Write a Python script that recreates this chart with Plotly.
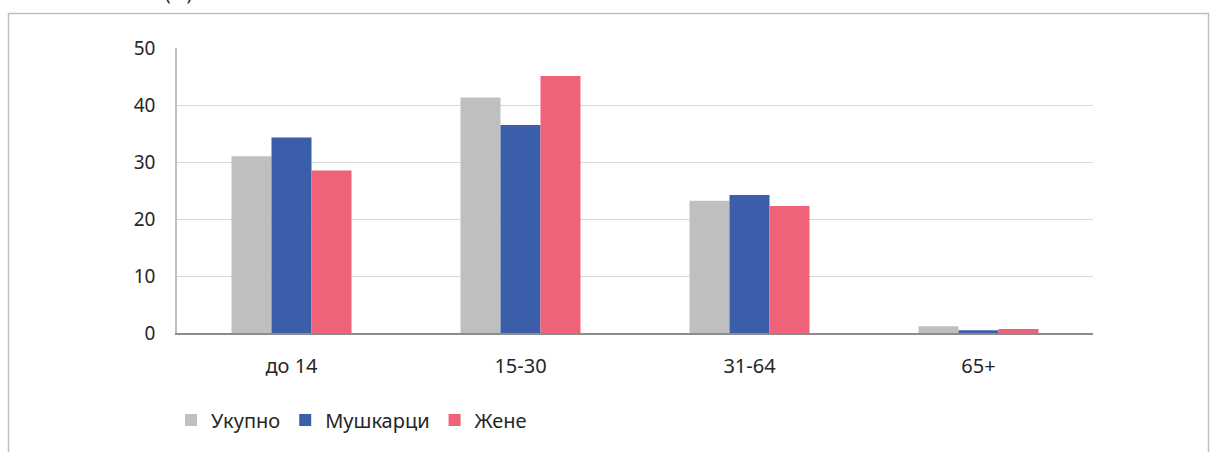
import plotly.graph_objects as go

categories = ["до 14", "15-30", "31-64", "65+"]
series_names = ["Укупно", "Мушкарци", "Жене"]
ukupno = [31.0, 41.3, 23.2, 1.2]
muskarci = [34.3, 36.5, 24.2, 0.5]
zene = [28.5, 45.1, 22.3, 0.7]
colors = ["#bfbfbf", "#3a5eaa", "#f06277"]
y_ticks = [0, 10, 20, 30, 40, 50]

fig = go.Figure()
for name, vals, c in zip(series_names, [ukupno, muskarci, zene], colors):
    fig.add_trace(go.Bar(x=categories, y=vals, name=name, marker_color=c,
                         marker_line_width=0))

W, H = 1217, 452
L, R, T, B = 177, 124, 48, 119
pw, ph = W - L - R, H - T - B

def px2paper_x(px):
    return (px - L) / pw

def px2paper_y(py):
    return (H - B - py) / ph

FONT = "Noto Sans, Open Sans, sans-serif"

fig.update_layout(
    width=W, height=H,
    margin=dict(l=L, r=R, t=T, b=B),
    paper_bgcolor="white", plot_bgcolor="white",
    barmode="group", bargap=0.476, bargroupgap=0,
    font=dict(family=FONT, size=19, color="#262626"),
    legend=dict(orientation="h", x=px2paper_x(171), y=px2paper_y(420),
                xanchor="left", yanchor="middle",
                font=dict(size=20, color="#262626"), itemwidth=30,
                traceorder="normal"),
    xaxis=dict(showgrid=False, showline=True, linecolor="#8c8c8c", linewidth=1.5,
               ticks="", tickfont=dict(size=20, color="#262626"),
               ticklabelstandoff=14),
    yaxis=dict(range=[0, 50], tickvals=y_ticks, showgrid=True, gridcolor="#d9d9d9",
               gridwidth=1, showline=True, linecolor="#bfbfbf", linewidth=1.5,
               zeroline=False, ticks="", tickfont=dict(size=19, color="#262626"),
               ticklabelstandoff=16),
    shapes=[dict(type="rect", xref="paper", yref="paper",
                 x0=px2paper_x(8.5), x1=px2paper_x(1208.5),
                 y0=px2paper_y(470), y1=px2paper_y(13.5),
                 line=dict(color="#bfbfbf", width=1.5), fillcolor="rgba(0,0,0,0)",
                 layer="below")],
    annotations=[dict(text="(%)", xref="paper", yref="paper",
                      x=px2paper_x(178), y=px2paper_y(8), xanchor="center",
                      yanchor="bottom", showarrow=False,
                      font=dict(size=19, color="#262626"))],
)

fig.write_html("out.html", config={"displayModeBar": False},
               post_script="document.body.style.margin='0';document.body.style.overflow='hidden';")
